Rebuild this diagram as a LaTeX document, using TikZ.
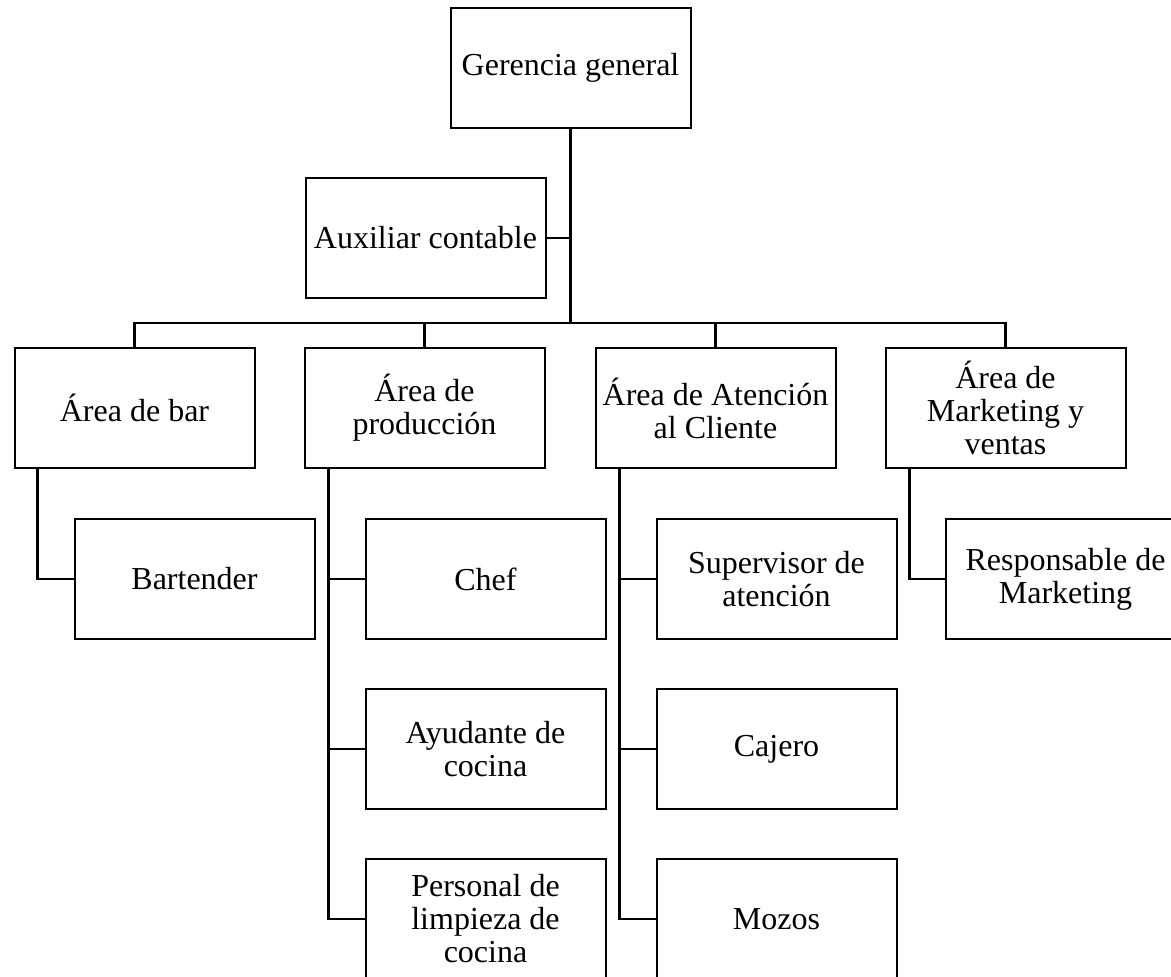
\documentclass[tikz,border=0pt]{standalone}
\usepackage{fontspec}
\setmainfont{Liberation Serif}

\begin{document}
\begin{tikzpicture}[x=1pt, y=-1pt, every node/.style={font=\fontsize{32}{33}\selectfont},
	puesto/.style={draw, line width=2pt, minimum width=240pt, minimum height=120pt, align=center, inner sep=2pt},
	enlace/.style={line width=2.4pt}, ramal/.style={line width=2pt}]
	\useasboundingbox (0,0) rectangle (1171,977);
	\clip (0,0) rectangle (1171,977);
	\node[puesto] (gg) at (570.5,67.5) {Gerencia general};
	\node[puesto] (aux) at (425.5,237.5) {Auxiliar contable};
	\node[puesto] (bar) at (134.5,408) {Área de bar};
	\node[puesto] (prod) at (424.5,408) {Área de\\producción};
	\node[puesto] (aten) at (715.5,408) {Área de Atención\\al Cliente};
	\node[puesto] (mkt) at (1005.5,408) {Área de\\Marketing y\\ventas};
	\node[puesto] (bart) at (194.5,579) {Bartender};
	\node[puesto] (chef) at (485.5,579) {Chef};
	\node[puesto] (ayud) at (485.5,749) {Ayudante de\\cocina};
	\node[puesto] (pers) at (485.5,919) {Personal de\\limpieza de\\cocina};
	\node[puesto] (sup) at (776.5,579) {Supervisor de\\atención};
	\node[puesto] (caj) at (776.5,749) {Cajero};
	\node[puesto] (moz) at (776.5,919) {Mozos};
	\node[puesto] (resp) at (1065.5,579) {Responsable de\\Marketing};
	\coordinate (bus) at (570.5,323);
	\coordinate (lbar) at ([xshift=24pt]bar.south west);
	\coordinate (lprod) at ([xshift=25pt]prod.south west);
	\coordinate (laten) at ([xshift=25pt]aten.south west);
	\coordinate (lmkt) at ([xshift=25pt]mkt.south west);
	\draw[enlace] (gg.south) -- (bus);
	\draw[ramal] (aux.east) -- (aux.east -| bus);
	\draw[enlace] (bar.north) |- (bus) -| (mkt.north);
	\draw[enlace] (prod.north) -- (prod.north |- bus);
	\draw[enlace] (aten.north) -- (aten.north |- bus);
	\draw[enlace] (lbar) |- (bart.west);
	\draw[enlace] (lprod) |- (pers.west);
	\draw[ramal] (chef.west) -- (chef.west -| lprod);
	\draw[ramal] (ayud.west) -- (ayud.west -| lprod);
	\draw[enlace] (laten) |- (moz.west);
	\draw[ramal] (sup.west) -- (sup.west -| laten);
	\draw[ramal] (caj.west) -- (caj.west -| laten);
	\draw[enlace] (lmkt) |- (resp.west);
\end{tikzpicture}
\end{document}
